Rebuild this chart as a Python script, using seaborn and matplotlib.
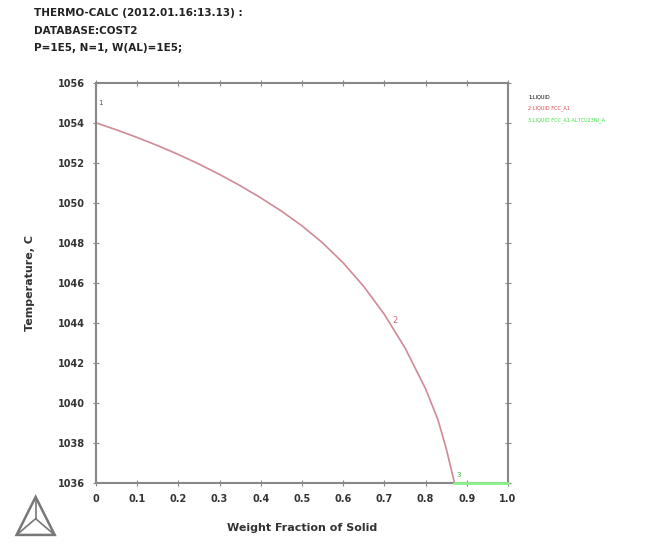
import numpy as np
import pandas as pd
import matplotlib
matplotlib.use("Agg")
import matplotlib.pyplot as plt
import seaborn as sns
from matplotlib.patches import Polygon

# values
frac_solid = [0, 0.05, 0.1, 0.15, 0.2, 0.25, 0.3, 0.35, 0.4, 0.45, 0.5,
              0.55, 0.6, 0.65, 0.7, 0.75, 0.8, 0.83, 0.85, 0.87]
temp_c = [1054.0, 1053.65, 1053.27, 1052.86, 1052.42, 1051.94, 1051.42, 1050.86,
          1050.25, 1049.59, 1048.85, 1048.0, 1047.0, 1045.82, 1044.42, 1042.75,
          1040.7, 1039.15, 1037.72, 1036.0]
eutectic_frac = [0.87, 1.0]
eutectic_temp = [1036.0, 1036.0]

x_ticks = [0, 0.1, 0.2, 0.3, 0.4, 0.5, 0.6, 0.7, 0.8, 0.9, 1.0]
x_labels = ["0", "0.1", "0.2", "0.3", "0.4", "0.5", "0.6", "0.7", "0.8", "0.9", "1.0"]
y_ticks = [1036, 1038, 1040, 1042, 1044, 1046, 1048, 1050, 1052, 1054, 1056]

legend_labels = ["1:LIQUID", "2:LIQUID FCC_A1", "3:LIQUID FCC_A1 AL7CU23NI_A"]
legend_colors = ["black", "#e04040", "#40e040"]

header = ["THERMO-CALC (2012.01.16:13.13) :",
          "DATABASE:COST2",
          "P=1E5, N=1, W(AL)=1E5;"]

sns.set_style("white")
plt.rcParams['font.family'] = ['DejaVu Sans']

fig = plt.figure(figsize=(6.48, 5.45), dpi=100)
ax = fig.add_axes([0.148, 0.114, 0.636, 0.734])

liq = pd.DataFrame({"frac": frac_solid, "temp": temp_c})
eut = pd.DataFrame({"frac": eutectic_frac, "temp": eutectic_temp})
sns.lineplot(data=liq, x="frac", y="temp", ax=ax, color="#d08a96", lw=1.2, sort=False)
sns.lineplot(data=eut, x="frac", y="temp", ax=ax, color="#8af08a", lw=2.0,
             sort=False, clip_on=False, zorder=5)

ax.set_xlim(0, 1.0)
ax.set_ylim(1036, 1056)
ax.set_xticks(x_ticks)
ax.set_xticklabels(x_labels, fontsize=7, fontweight="bold", color="#333333")
ax.set_yticks(y_ticks)
ax.set_yticklabels([str(v) for v in y_ticks], fontsize=7, fontweight="bold", color="#333333")
ax.tick_params(axis="both", direction="out", length=4, color="#888888", pad=6,
               bottom=True, left=True)
ax.tick_params(axis="x", which="both", top=True)
ax.tick_params(axis="y", which="both", right=True)
ax.xaxis.set_tick_params(which="major", direction="inout")
ax.yaxis.set_tick_params(which="major", direction="inout")
for s in ax.spines.values():
    s.set_color("#888888")
    s.set_linewidth(1.5)

ax.set_xlabel("Weight Fraction of Solid", fontsize=8, fontweight="bold",
              color="#333333", labelpad=14)
ax.set_ylabel("Temperature, C", fontsize=8, fontweight="bold",
              color="#333333", labelpad=16)

# curve labels
ax.text(0.005, 1054.9, "1", fontsize=5, color="#555555")
ax.text(0.72, 1044.0, "2", fontsize=6, color="#b07080")
ax.text(0.875, 1036.3, "3", fontsize=5, color="#40c040")

# header text
for i, line in enumerate(header):
    fig.text(0.052, 0.985 - i * 0.032, line, fontsize=7.5, fontweight="bold",
             color="#222222", va="top")

# legend text on the right
for i, (lab, col) in enumerate(zip(legend_labels, legend_colors)):
    fig.text(0.815, 0.822 - i * 0.021, lab, fontsize=3.6, color=col, va="center")

# little triangle logo bottom-left
logo_ax = fig.add_axes([0.02, 0.01, 0.07, 0.085])
logo_ax.set_axis_off()
logo_ax.set_xlim(0, 1)
logo_ax.set_ylim(0, 1)
logo_ax.add_patch(Polygon([[0.08, 0.1], [0.92, 0.1], [0.5, 0.92]], closed=True,
                          fill=False, ec="#777777", lw=1.8))
logo_ax.plot([0.5, 0.5], [0.92, 0.45], color="#777777", lw=1.2)
logo_ax.plot([0.08, 0.5], [0.1, 0.45], color="#777777", lw=1.2)
logo_ax.plot([0.92, 0.5], [0.1, 0.45], color="#777777", lw=1.2)

fig.savefig("out.png", dpi=100)
